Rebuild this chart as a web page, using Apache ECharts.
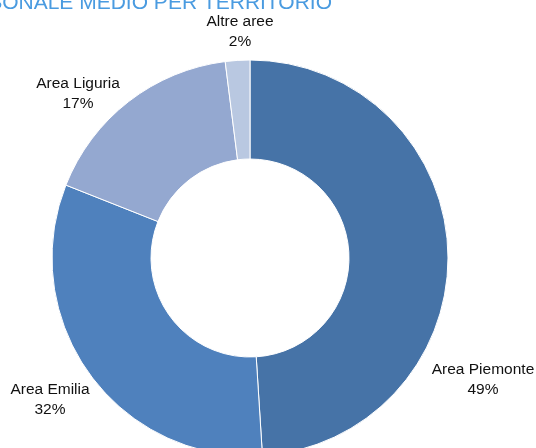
<!DOCTYPE html>
<html>
<head>
<meta charset="utf-8">
<script src="https://cdn.jsdelivr.net/npm/echarts@6/dist/echarts.min.js"></script>
<style>
html,body{margin:0;padding:0;background:#fff;}
#main{width:536px;height:448px;}
</style>
</head>
<body>
<div id="main"></div>
<script>
// dati
var categorie = ['Area Piemonte', 'Area Emilia', 'Area Liguria', 'Altre aree'];
var valori = [49, 32, 17, 2];
var colori = ['#4673a7', '#4f81bd', '#94a8d0', '#b9c8e1'];
// posizione delle etichette (come nel grafico originale)
var posEtichette = [[483, 380], [50, 400], [78, 94], [240, 32]];

var myChart = echarts.init(document.getElementById('main'));

var dati = [];
for (var i = 0; i < categorie.length; i++) {
	dati.push({name: categorie[i], value: valori[i], itemStyle: {color: colori[i]}});
}

var option = {
	animation: false,
	graphic: [{
		type: 'text',
		x: 332,
		y: -7,
		style: {
			text: 'PERSONALE MEDIO PER TERRITORIO',
			fill: '#4a9be0',
			align: 'right',
			verticalAlign: 'top',
			font: '21px "Liberation Sans", Arial, sans-serif'
		}
	}],
	series: [{
		type: 'pie',
		center: [250, 258],
		radius: [99, 198],
		startAngle: 90,
		clockwise: true,
		itemStyle: {borderColor: '#fff', borderWidth: 1},
		label: {
			show: true,
			formatter: function (p) { return p.name + '\n' + p.value + '%'; },
			color: '#111',
			fontSize: 15.5,
			lineHeight: 20,
			fontFamily: '"Liberation Sans", Arial, sans-serif',
			align: 'center',
			overflow: 'none',
			width: 200
		},
		labelLine: {show: false},
		labelLayout: function (params) {
			var p = posEtichette[params.dataIndex];
			return {x: p[0], y: p[1], align: 'center', verticalAlign: 'middle'};
		},
		emphasis: {disabled: true},
		data: dati
	}]
};
myChart.setOption(option);
</script>
</body>
</html>
